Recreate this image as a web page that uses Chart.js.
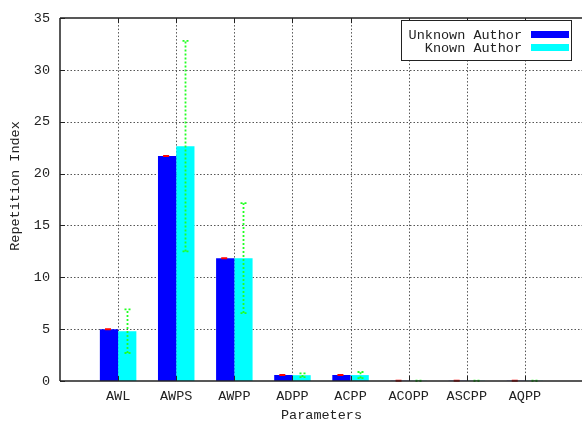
<!DOCTYPE html>
<html>
<head>
<meta charset="utf-8">
<script src="https://cdn.jsdelivr.net/npm/chart.js@4"></script>
<style>
  html, body { margin: 0; padding: 0; background: #fff; overflow: hidden; }
  #wrap { width: 590px; height: 423px; }
</style>
</head>
<body>
<div id="wrap"><canvas id="c" width="590" height="423"></canvas></div>
<script>
// Repetition index per parameter, mean and spread for each author group
const categories = ['AWL', 'AWPS', 'AWPP', 'ADPP', 'ACPP', 'ACOPP', 'ASCPP', 'AQPP'];
const unknownAuthor    = [5.0, 21.7, 11.85, 0.58, 0.58, 0.02, 0.02, 0.02];
const unknownAuthorErr = [0, 0, 0, 0, 0, 0, 0, 0];
const knownAuthor      = [4.8, 22.65, 11.85, 0.56, 0.57, 0.02, 0.02, 0.02];
const knownAuthorErr   = [2.1, 10.15, 5.3, 0.18, 0.3, 0.02, 0.02, 0.02];
const yTicks = [0, 5, 10, 15, 20, 25, 30, 35];
const seriesNames = ['Unknown Author', 'Known Author'];

const FONT = { family: '"Liberation Mono", "DejaVu Sans Mono", monospace', size: 13.5 };
const FONT_CSS = '13.5px "Liberation Mono", "DejaVu Sans Mono", monospace';
const TEXT = '#222';

const toPoints = arr => arr.map((v, i) => ({ x: i + 1, y: v }));

const decorations = {
  id: 'decorations',
  beforeDatasetsDraw(chart) {
    const { ctx, chartArea: a, scales: { x, y } } = chart;
    ctx.save();
    ctx.strokeStyle = '#555';
    ctx.lineWidth = 1;
    ctx.setLineDash([1.5, 2]);
    // horizontal grid
    yTicks.forEach(v => {
      if (v === yTicks[0] || v === yTicks[yTicks.length - 1]) return;
      const py = Math.round(y.getPixelForValue(v)) + 0.5;
      ctx.beginPath(); ctx.moveTo(a.left, py); ctx.lineTo(a.right, py); ctx.stroke();
    });
    // vertical grid at each category
    categories.forEach((c, i) => {
      const px = Math.round(x.getPixelForValue(i + 1)) + 0.5;
      ctx.beginPath(); ctx.moveTo(px, a.top); ctx.lineTo(px, a.bottom); ctx.stroke();
    });
    ctx.restore();
  },
  afterDatasetsDraw(chart) {
    const { ctx, chartArea: a, scales: { x, y } } = chart;
    ctx.save();

    // error bars on the known-author series (dotted green)
    const metaK = chart.getDatasetMeta(1);
    ctx.strokeStyle = '#22ff22';
    ctx.lineWidth = 1.8;
    ctx.setLineDash([2, 2]);
    metaK.data.forEach((el, i) => {
      const v = knownAuthor[i], e = knownAuthorErr[i];
      const px = Math.round(el.x) + 0.5;
      const top = y.getPixelForValue(v + e);
      const bot = y.getPixelForValue(Math.max(v - e, 0));
      ctx.beginPath();
      ctx.moveTo(px, bot); ctx.lineTo(px, top);
      ctx.moveTo(px - 3, top); ctx.lineTo(px + 3, top);
      ctx.moveTo(px - 3, bot); ctx.lineTo(px + 3, bot);
      ctx.stroke();
    });

    // error bars on the unknown-author series (red)
    const metaU = chart.getDatasetMeta(0);
    ctx.setLineDash([]);
    ctx.strokeStyle = '#ff0000';
    ctx.lineWidth = 2;
    metaU.data.forEach((el, i) => {
      const v = unknownAuthor[i], e = unknownAuthorErr[i];
      const px = el.x - 1;
      const top = y.getPixelForValue(v + e);
      const bot = y.getPixelForValue(Math.max(v - e, 0));
      ctx.beginPath();
      ctx.moveTo(px, bot); ctx.lineTo(px, top);
      ctx.moveTo(px - 3, top); ctx.lineTo(px + 3, top);
      ctx.moveTo(px - 3, bot); ctx.lineTo(px + 3, bot);
      ctx.stroke();
    });

    // frame
    ctx.strokeStyle = '#222';
    ctx.lineWidth = 1.5;
    ctx.beginPath();
    ctx.moveTo(a.left, a.top); ctx.lineTo(a.right, a.top);
    ctx.moveTo(a.left, a.top); ctx.lineTo(a.left, a.bottom);
    ctx.moveTo(a.left, a.bottom); ctx.lineTo(a.right, a.bottom);
    ctx.stroke();

    // inner tick marks
    ctx.lineWidth = 1;
    ctx.beginPath();
    categories.forEach((c, i) => {
      const px = Math.round(x.getPixelForValue(i + 1)) + 0.5;
      ctx.moveTo(px, a.bottom); ctx.lineTo(px, a.bottom - 5);
      ctx.moveTo(px, a.top); ctx.lineTo(px, a.top + 5);
    });
    yTicks.forEach(v => {
      const py = Math.round(y.getPixelForValue(v)) + 0.5;
      ctx.moveTo(a.left, py); ctx.lineTo(a.left + 5, py);
    });
    ctx.stroke();

    // legend
    const bx = 401.5, by = 20.5, bw = 170, bh = 40;
    ctx.fillStyle = '#fff';
    ctx.fillRect(bx, by, bw, bh);
    ctx.strokeStyle = '#222';
    ctx.lineWidth = 1;
    ctx.strokeRect(bx, by, bw, bh);
    ctx.font = FONT_CSS;
    ctx.textAlign = 'right';
    ctx.textBaseline = 'middle';
    chart.data.datasets.forEach((ds, i) => {
      const cy = 35 + i * 13;
      ctx.fillStyle = TEXT;
      ctx.fillText(ds.label, 522, cy);
      ctx.fillStyle = ds.backgroundColor;
      ctx.fillRect(531, cy - 4, 38, 7);
    });

    // axis titles
    ctx.fillStyle = TEXT;
    ctx.textAlign = 'center';
    ctx.textBaseline = 'middle';
    ctx.fillText('Parameters', (a.left + a.right) / 2, 415);
    ctx.translate(15, 186);
    ctx.rotate(-Math.PI / 2);
    ctx.fillText('Repetition Index', 0, 0);
    ctx.restore();
  }
};

new Chart(document.getElementById('c'), {
  type: 'bar',
  data: {
    datasets: [
      { label: seriesNames[0], data: toPoints(unknownAuthor), backgroundColor: '#0000ff', borderWidth: 0 },
      { label: seriesNames[1], data: toPoints(knownAuthor), backgroundColor: '#00ffff', borderWidth: 0 }
    ]
  },
  options: {
    responsive: false,
    animation: false,
    events: [],
    categoryPercentage: 0.628,
    barPercentage: 1,
    layout: { padding: { top: 15, right: 5, left: 0, bottom: 0 } },
    plugins: { legend: { display: false }, tooltip: { enabled: false } },
    scales: {
      x: {
        type: 'linear',
        min: 0,
        max: categories.length + 1,
        offset: false,
        afterFit(s) { s.height = 42; },
        afterBuildTicks(s) {
          s.ticks = Array.from({ length: categories.length + 2 }, (_, i) => ({ value: i }));
        },
        ticks: {
          autoSkip: false,
          maxRotation: 0,
          padding: 7,
          font: FONT,
          color: TEXT,
          callback: v => categories[v - 1] || ''
        },
        grid: { display: false, drawTicks: false },
        border: { display: false }
      },
      y: {
        min: 0,
        max: 35,
        afterFit(s) { s.width = 60; },
        afterBuildTicks(s) { s.ticks = yTicks.map(v => ({ value: v })); },
        ticks: { padding: 10, font: FONT, color: TEXT },
        grid: { display: false, drawTicks: false },
        border: { display: false }
      }
    }
  },
  plugins: [decorations]
});
</script>
</body>
</html>
